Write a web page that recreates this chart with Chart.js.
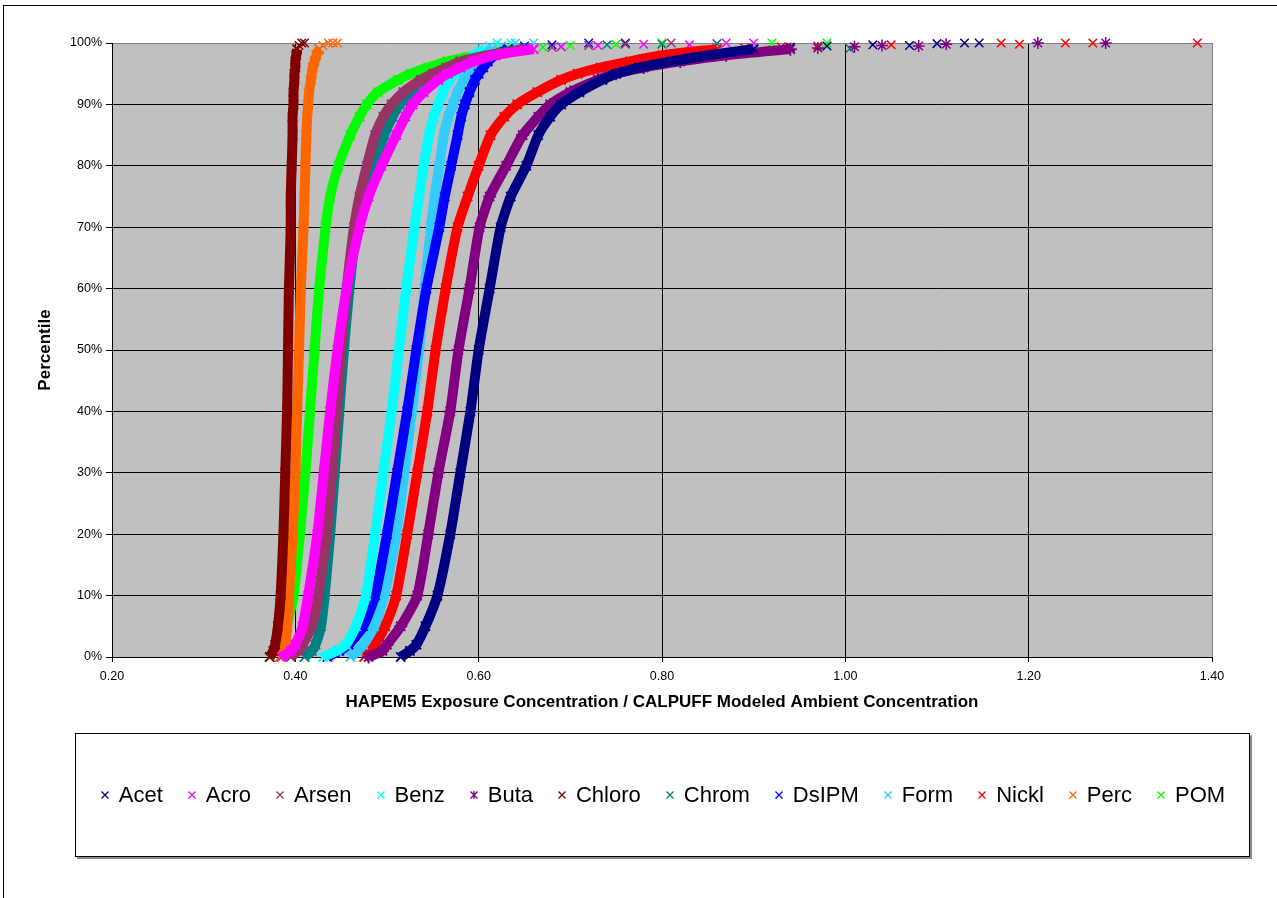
<!DOCTYPE html>
<html>
<head>
<meta charset="utf-8">
<title>HAPEM5 / CALPUFF ratio percentiles</title>
<script src="https://cdn.jsdelivr.net/npm/chart.js@4.4.1/dist/chart.umd.min.js"></script>
<style>
  html, body { margin: 0; padding: 0; background: #fff; }
  body {
    width: 1277px; height: 898px; position: relative; overflow: hidden;
    font-family: "Liberation Sans", Arial, sans-serif;
  }
  #frame { position: absolute; left: 3px; top: 5px; width: 1290px; height: 900px; border: 1px solid #000; }
  #chartWrap { position: absolute; left: 0; top: 0; width: 1277px; height: 898px; }
  #legend {
    position: absolute; left: 75px; top: 733px; width: 1175px; height: 124px;
    box-sizing: border-box; border: 1px solid #000; box-shadow: 2px 2px 0 #8a8a8a;
    background: #fff; display: flex; align-items: center; justify-content: center;
  }
  .item { display: flex; align-items: center; font-size: 22px; color: #000; margin-right: 24px; }
  .item:last-child { margin-right: 0; }
  .item svg { margin-right: 9px; }
</style>
</head>
<body>
<div id="frame"></div>
<div id="chartWrap"><canvas id="ratioChart"></canvas></div>
<div id="legend"></div>

<script>
// percentile levels shared by every curve
const PCT = [0, 1, 2, 5, 10, 20, 30, 40, 50, 60, 70, 75, 80, 85, 88, 90, 92, 94, 95, 96, 97, 98, 99];

// exposure / modeled ratio at each level in PCT
const acet   = [0.515, 0.525, 0.532, 0.542, 0.555, 0.569, 0.580, 0.591, 0.600, 0.612, 0.624, 0.635, 0.652, 0.665, 0.678, 0.690, 0.710, 0.735, 0.750, 0.775, 0.810, 0.850, 0.900];
const acro   = [0.385, 0.395, 0.400, 0.408, 0.414, 0.424, 0.431, 0.438, 0.446, 0.456, 0.470, 0.480, 0.494, 0.510, 0.520, 0.528, 0.540, 0.556, 0.566, 0.580, 0.595, 0.617, 0.660];
const arsen  = [0.395, 0.403, 0.408, 0.418, 0.425, 0.434, 0.440, 0.445, 0.450, 0.456, 0.464, 0.470, 0.478, 0.487, 0.496, 0.505, 0.518, 0.537, 0.550, 0.565, 0.580, 0.610, 0.650];
const benz   = [0.430, 0.445, 0.455, 0.466, 0.477, 0.487, 0.496, 0.505, 0.513, 0.521, 0.530, 0.535, 0.540, 0.546, 0.551, 0.556, 0.561, 0.568, 0.574, 0.580, 0.587, 0.595, 0.605];
const buta   = [0.480, 0.495, 0.500, 0.515, 0.533, 0.545, 0.556, 0.569, 0.578, 0.590, 0.601, 0.612, 0.630, 0.648, 0.665, 0.678, 0.700, 0.730, 0.750, 0.780, 0.820, 0.870, 0.940];
const chloro = [0.372, 0.376, 0.378, 0.381, 0.384, 0.387, 0.389, 0.391, 0.392, 0.393, 0.395, 0.395, 0.396, 0.397, 0.397, 0.398, 0.398, 0.399, 0.399, 0.400, 0.400, 0.401, 0.402];
const chrom  = [0.410, 0.418, 0.422, 0.428, 0.432, 0.438, 0.443, 0.448, 0.453, 0.459, 0.467, 0.474, 0.485, 0.497, 0.506, 0.514, 0.527, 0.542, 0.552, 0.568, 0.588, 0.610, 0.650];
const dsipm  = [0.435, 0.448, 0.458, 0.474, 0.487, 0.500, 0.511, 0.522, 0.532, 0.543, 0.557, 0.563, 0.570, 0.577, 0.581, 0.585, 0.590, 0.596, 0.600, 0.605, 0.610, 0.618, 0.632];
const form   = [0.460, 0.468, 0.474, 0.486, 0.497, 0.510, 0.519, 0.527, 0.535, 0.541, 0.548, 0.552, 0.557, 0.562, 0.567, 0.572, 0.577, 0.584, 0.588, 0.593, 0.598, 0.606, 0.615];
const nickl  = [0.475, 0.482, 0.487, 0.498, 0.510, 0.522, 0.533, 0.544, 0.553, 0.564, 0.577, 0.588, 0.600, 0.613, 0.628, 0.642, 0.664, 0.690, 0.708, 0.733, 0.765, 0.800, 0.860];
const perc   = [0.383, 0.387, 0.389, 0.391, 0.393, 0.397, 0.400, 0.402, 0.404, 0.406, 0.409, 0.410, 0.411, 0.412, 0.413, 0.414, 0.415, 0.417, 0.418, 0.419, 0.421, 0.423, 0.426];
const pom    = [0.372, 0.378, 0.382, 0.390, 0.398, 0.405, 0.411, 0.416, 0.421, 0.426, 0.433, 0.438, 0.447, 0.460, 0.470, 0.478, 0.490, 0.512, 0.526, 0.545, 0.566, 0.599, 0.640];

// scattered top-end points [ratio, percentile]
const acetTail   = [[0.94, 99.3], [0.98, 99.5], [1.03, 99.7], [1.07, 99.6], [1.10, 99.9], [1.13, 100], [1.146, 100]];
const acroTail   = [[0.69, 99.4], [0.73, 99.6], [0.78, 99.8], [0.83, 99.7], [0.87, 100], [0.90, 100]];
const arsenTail  = [[0.68, 99.3], [0.72, 99.6], [0.76, 99.8], [0.81, 100]];
const benzTail   = [[0.612, 99.5], [0.62, 100], [0.635, 100]];
const butaTail   = [[0.97, 99.2], [1.01, 99.4], [1.04, 99.6], [1.08, 99.5], [1.11, 99.8], [1.21, 100], [1.284, 100]];
const chloroTail = [[0.404, 99.6], [0.407, 100], [0.41, 100]];
const chromTail  = [[0.69, 99.4], [0.74, 99.7], [0.80, 99.8], [0.86, 99.9], [1.005, 99.1]];
const dsipmTail  = [[0.65, 99.5], [0.68, 99.7], [0.72, 100], [0.76, 100]];
const formTail   = [[0.625, 99.6], [0.64, 100], [0.66, 100]];
const nicklTail  = [[0.89, 99.2], [0.93, 99.4], [0.97, 99.5], [1.05, 99.7], [1.17, 100], [1.19, 99.8], [1.24, 100], [1.27, 100], [1.384, 100]];
const percTail   = [[0.43, 99.6], [0.436, 100], [0.441, 100], [0.446, 100]];
const pomTail    = [[0.67, 99.3], [0.70, 99.6], [0.75, 99.8], [0.80, 100], [0.92, 100], [0.98, 100]];

const SERIES = ["Acet", "Acro", "Arsen", "Benz", "Buta", "Chloro", "Chrom", "DsIPM", "Form", "Nickl", "Perc", "POM"];
const BODY   = [acet, acro, arsen, benz, buta, chloro, chrom, dsipm, form, nickl, perc, pom];
const TAILS  = [acetTail, acroTail, arsenTail, benzTail, butaTail, chloroTail, chromTail, dsipmTail, formTail, nicklTail, percTail, pomTail];

const Y_TICKS = [0, 10, 20, 30, 40, 50, 60, 70, 80, 90, 100];
const X_TICKS = [0.2, 0.4, 0.6, 0.8, 1.0, 1.2, 1.4];

// styling
const COLORS = ["#000080", "#ff00ff", "#993366", "#00ffff", "#800080", "#800000",
                "#008080", "#0000ff", "#33ccff", "#ff0000", "#ff6600", "#00ff00"];
const markerFor = name => name === "Buta" ? "star" : "crossRot";

Chart.defaults.font.family = '"Liberation Sans", Arial, sans-serif';
Chart.defaults.color = "#000";

// grey plot area like the Excel original
const plotBg = {
    id: "plotBg",
    beforeDraw(chart) {
        const { ctx, chartArea: a } = chart;
        ctx.save();
        ctx.fillStyle = "#c0c0c0";
        ctx.fillRect(a.left, a.top, a.right - a.left, a.bottom - a.top);
        ctx.restore();
    }
};

const datasets = [];
SERIES.forEach((name, i) => {
    datasets.push({
        label: name,
        data: PCT.map((p, k) => ({ x: BODY[i][k], y: p })),
        showLine: true,
        borderColor: COLORS[i],
        backgroundColor: COLORS[i],
        borderWidth: 10,
        tension: 0.2,
        pointStyle: markerFor(name),
        pointRadius: 6.5,
        pointBorderWidth: 2,
        clip: false
    });
});
// tails go after the bodies so they sit underneath
SERIES.forEach((name, i) => {
    datasets.push({
        label: name + " tail",
        data: TAILS[i].map(([x, y]) => ({ x, y })),
        showLine: false,
        borderColor: COLORS[i],
        backgroundColor: COLORS[i],
        pointStyle: markerFor(name),
        pointRadius: 6,
        pointBorderWidth: 1.5,
        clip: false
    });
});

const ctx = document.getElementById("ratioChart").getContext("2d");
const chart = new Chart(ctx, {
    type: "scatter",
    data: { datasets },
    plugins: [plotBg],
    options: {
        responsive: true,
        maintainAspectRatio: false,
        animation: false,
        layout: { padding: { left: 0, right: 65, top: 43, bottom: 171 } },
        plugins: {
            legend: { display: false },
            tooltip: { enabled: false }
        },
        scales: {
            x: {
                type: "linear",
                min: X_TICKS[0],
                max: X_TICKS[X_TICKS.length - 1],
                afterBuildTicks: axis => { axis.ticks = X_TICKS.map(v => ({ value: v })); },
                afterFit: axis => { axis.height = 70; },
                ticks: {
                    callback: v => Number(v).toFixed(2),
                    font: { size: 12.5 },
                    padding: 7,
                    maxRotation: 0
                },
                grid: {
                    color: c => (c.tick && c.tick.value >= 1.4 ? "#808080" : "#000"),
                    tickColor: "#000",
                    tickLength: 5
                },
                border: { color: "#000" },
                title: {
                    display: true,
                    text: "HAPEM5 Exposure Concentration / CALPUFF Modeled Ambient Concentration",
                    font: { size: 17, weight: "bold" },
                    padding: { top: 0, bottom: 14 }
                }
            },
            y: {
                min: 0,
                max: 100,
                afterBuildTicks: axis => { axis.ticks = Y_TICKS.map(v => ({ value: v })); },
                afterFit: axis => { axis.width = 112; },
                ticks: {
                    callback: v => v + "%",
                    font: { size: 12.5 },
                    padding: 4
                },
                grid: {
                    color: c => (c.tick && c.tick.value >= 100 ? "#808080" : "#000"),
                    tickColor: "#000",
                    tickLength: 6
                },
                border: { color: "#000" },
                title: {
                    display: true,
                    text: "Percentile",
                    font: { size: 17, weight: "bold" },
                    padding: { top: 35, bottom: 0 }
                }
            }
        }
    }
});

// ================= HTML LEGEND =================
function markerSvg(color, style) {
    let d = "M1.5 1.5L8.5 8.5M8.5 1.5L1.5 8.5";
    if (style === "star") d += "M5 1V9";
    return '<svg width="10" height="10" viewBox="0 0 10 10"><path d="' + d +
        '" stroke="' + color + '" stroke-width="1.3" fill="none"/></svg>';
}

const legendEl = document.getElementById("legend");
chart.data.datasets.slice(0, SERIES.length).forEach(ds => {
    const item = document.createElement("div");
    item.className = "item";
    item.innerHTML = markerSvg(ds.borderColor, ds.pointStyle) + "<span></span>";
    item.querySelector("span").textContent = ds.label;
    legendEl.appendChild(item);
});
</script>
</body>
</html>
